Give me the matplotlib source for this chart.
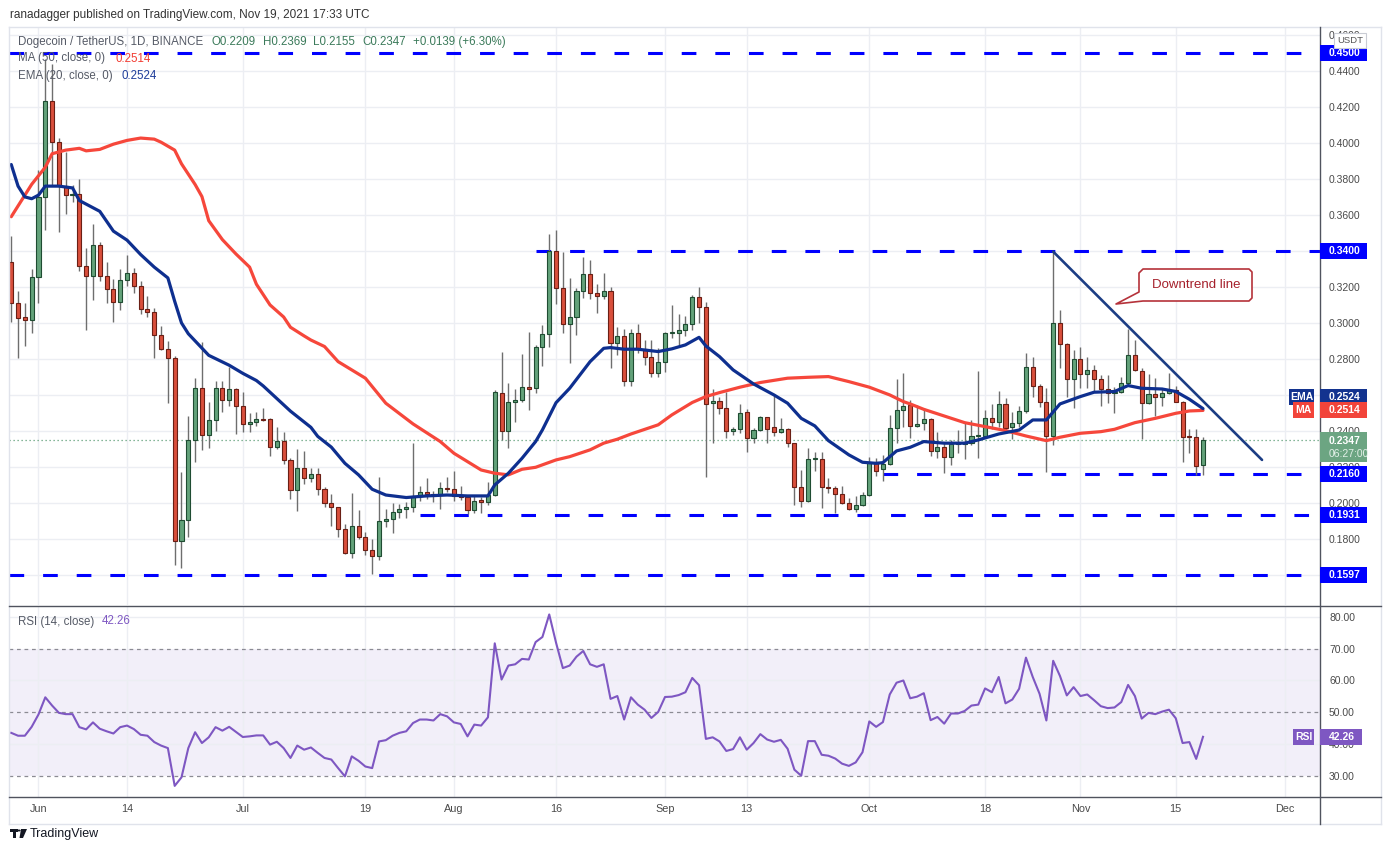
import numpy as np
import pandas as pd
import matplotlib
matplotlib.use("Agg")
import matplotlib.pyplot as plt
import matplotlib.dates as mdates
from matplotlib.patches import Rectangle, Polygon
from matplotlib.lines import Line2D
from matplotlib.ticker import FuncFormatter

plt.rcParams['font.family'] = ['Liberation Sans', 'DejaVu Sans']

# ---------------- data ----------------
start_date = "2021-05-28"
end_date = "2021-11-19"

opens = [0.3339, 0.3109, 0.3031, 0.3014,
         0.3253, 0.3698, 0.4232, 0.4004, 0.3759, 0.3708, 0.3716, 0.3316, 0.3259, 0.3433, 0.3260, 0.3188, 0.3119, 0.3238, 0.3276,
         0.3207, 0.3077, 0.3058, 0.2932, 0.2855, 0.2803, 0.1790, 0.1905, 0.2350, 0.2637, 0.2377, 0.2459, 0.2641, 0.2574, 0.2631,
         0.2536, 0.2438, 0.2450, 0.2465, 0.2465, 0.2310, 0.2345, 0.2239, 0.2071, 0.2192, 0.2140, 0.2159, 0.2076, 0.1998, 0.1976,
         0.1854, 0.1720, 0.1872, 0.1813, 0.1739, 0.1706, 0.1902, 0.1911, 0.1948, 0.1967, 0.1978, 0.2037, 0.2059, 0.2052, 0.2044, 0.2085,
         0.2076, 0.2043, 0.2031, 0.1961, 0.2017, 0.2007, 0.2046, 0.2613, 0.2398, 0.2559, 0.2570, 0.2643, 0.2637, 0.2865, 0.2937,
         0.3398, 0.3193, 0.2993, 0.3032, 0.3178, 0.3272, 0.3165, 0.3147, 0.3178, 0.2887, 0.2928, 0.2680, 0.2943, 0.2857, 0.2809, 0.2720,
         0.2781, 0.2943, 0.2943, 0.2959, 0.2993, 0.3143, 0.3087, 0.2554, 0.2565, 0.2526, 0.2398, 0.2409, 0.2504, 0.2359, 0.2404,
         0.2476, 0.2420, 0.2396, 0.2413, 0.2332, 0.2087, 0.2009, 0.2243, 0.2243, 0.2091, 0.2081, 0.2048, 0.1998, 0.1965, 0.1987,
         0.2043, 0.2228, 0.2187, 0.2217, 0.2415, 0.2517, 0.2543, 0.2428, 0.2443, 0.2465, 0.2289, 0.2309, 0.2257, 0.2326, 0.2326,
         0.2335, 0.2372, 0.2374, 0.2470, 0.2452, 0.2550, 0.2422, 0.2443, 0.2509, 0.2756, 0.2650, 0.2559, 0.2374, 0.2998, 0.2882, 0.2687,
         0.2798, 0.2715, 0.2739, 0.2687, 0.2632, 0.2609, 0.2615, 0.2665, 0.2820, 0.2735, 0.2554, 0.2606, 0.2591, 0.2609, 0.2626,
         0.2563, 0.2369, 0.2369, 0.2209]

highs = [0.3482, 0.3176, 0.3109, 0.3301,
         0.3849, 0.4467, 0.4438, 0.4027, 0.3951, 0.3769, 0.3798, 0.3415, 0.3549, 0.3448, 0.3339, 0.3243, 0.3301, 0.3377, 0.3306,
         0.3234, 0.3148, 0.3081, 0.2981, 0.2899, 0.2817, 0.2172, 0.2484, 0.2694, 0.2893, 0.2561, 0.2679, 0.2675, 0.2756, 0.2641,
         0.2618, 0.2498, 0.2507, 0.2530, 0.2473, 0.2421, 0.2392, 0.2249, 0.2301, 0.2287, 0.2192, 0.2192, 0.2091, 0.2050, 0.1980,
         0.1883, 0.2054, 0.1961, 0.1841, 0.1798, 0.2146, 0.1969, 0.1998, 0.1994, 0.2007, 0.2331, 0.2096, 0.2137, 0.2068, 0.2119, 0.2143,
         0.2180, 0.2096, 0.2039, 0.2039, 0.2035, 0.2119, 0.2628, 0.2837, 0.2665, 0.2632, 0.2828, 0.2950, 0.2878, 0.2987, 0.3494,
         0.3517, 0.3396, 0.3248, 0.3193, 0.3369, 0.3350, 0.3215, 0.3280, 0.3202, 0.2980, 0.2965, 0.2965, 0.2995, 0.2906, 0.2906, 0.2859,
         0.2952, 0.3100, 0.3050, 0.3039, 0.3156, 0.3202, 0.3115, 0.2633, 0.2591, 0.2618, 0.2424, 0.2550, 0.2520, 0.2415, 0.2483,
         0.2480, 0.2600, 0.2470, 0.2415, 0.2334, 0.2183, 0.2304, 0.2285, 0.2285, 0.2137, 0.2094, 0.2094, 0.2026, 0.2039, 0.2063,
         0.2254, 0.2252, 0.2267, 0.2489, 0.2687, 0.2720, 0.2572, 0.2543, 0.2526, 0.2470, 0.2396, 0.2332, 0.2350, 0.2405, 0.2443,
         0.2461, 0.2733, 0.2517, 0.2550, 0.2622, 0.2582, 0.2507, 0.2539, 0.2832, 0.2808, 0.2661, 0.2639, 0.3396, 0.3072, 0.2887, 0.2850,
         0.2865, 0.2809, 0.2767, 0.2711, 0.2711, 0.2646, 0.2698, 0.2965, 0.2905, 0.2748, 0.2717, 0.2693, 0.2637, 0.2720, 0.2652,
         0.2565, 0.2409, 0.2411, 0.2369]

lows = [0.3004, 0.2803, 0.2870, 0.2943,
        0.3113, 0.3515, 0.3769, 0.3505, 0.3607, 0.3673, 0.3287, 0.2960, 0.3129, 0.3234, 0.3109, 0.3004, 0.3071, 0.3203, 0.3167,
        0.3052, 0.3033, 0.2803, 0.2850, 0.2555, 0.1657, 0.1638, 0.1809, 0.2230, 0.2293, 0.2306, 0.2402, 0.2507, 0.2536, 0.2383,
        0.2392, 0.2392, 0.2427, 0.2455, 0.2259, 0.2297, 0.2216, 0.2020, 0.1953, 0.2106, 0.2115, 0.2044, 0.1980, 0.1872, 0.1813,
        0.1715, 0.1693, 0.1798, 0.1711, 0.1606, 0.1683, 0.1865, 0.1832, 0.1915, 0.1915, 0.1952, 0.2013, 0.2020, 0.2007, 0.1965, 0.2063,
        0.2013, 0.2017, 0.1937, 0.1946, 0.1946, 0.1987, 0.2039, 0.2350, 0.2307, 0.2452, 0.2563, 0.2517, 0.2613, 0.2763, 0.2869,
        0.3104, 0.2946, 0.2780, 0.2933, 0.3141, 0.3133, 0.3054, 0.3133, 0.2748, 0.2822, 0.2650, 0.2650, 0.2835, 0.2769, 0.2702, 0.2698,
        0.2729, 0.2918, 0.2872, 0.2930, 0.2962, 0.3002, 0.2146, 0.2335, 0.2493, 0.2359, 0.2378, 0.2387, 0.2285, 0.2335, 0.2400,
        0.2332, 0.2372, 0.2387, 0.2309, 0.1989, 0.1980, 0.2007, 0.2180, 0.1970, 0.2057, 0.1943, 0.1994, 0.1961, 0.1948, 0.1983,
        0.2039, 0.2152, 0.2124, 0.2211, 0.2332, 0.2424, 0.2359, 0.2424, 0.2405, 0.2261, 0.2248, 0.2165, 0.2211, 0.2276, 0.2243,
        0.2322, 0.2252, 0.2369, 0.2409, 0.2424, 0.2387, 0.2354, 0.2424, 0.2502, 0.2587, 0.2535, 0.2174, 0.2322, 0.2748, 0.2587, 0.2526,
        0.2637, 0.2637, 0.2622, 0.2541, 0.2554, 0.2502, 0.2609, 0.2661, 0.2735, 0.2354, 0.2548, 0.2485, 0.2541, 0.2606, 0.2559,
        0.2230, 0.2276, 0.2154, 0.2155]

closes = [0.3109, 0.3027, 0.3016, 0.3257,
          0.3698, 0.4232, 0.4004, 0.3759, 0.3708, 0.3716, 0.3314, 0.3259, 0.3433, 0.3260, 0.3188, 0.3119, 0.3238, 0.3276, 0.3203,
          0.3077, 0.3058, 0.2932, 0.2855, 0.2803, 0.1790, 0.1905, 0.2350, 0.2637, 0.2377, 0.2459, 0.2641, 0.2574, 0.2631, 0.2536,
          0.2440, 0.2450, 0.2465, 0.2462, 0.2310, 0.2345, 0.2239, 0.2071, 0.2192, 0.2140, 0.2159, 0.2077, 0.1998, 0.1976, 0.1854,
          0.1720, 0.1872, 0.1813, 0.1739, 0.1706, 0.1902, 0.1911, 0.1948, 0.1967, 0.1978, 0.2037, 0.2059, 0.2052, 0.2044, 0.2085, 0.2076,
          0.2039, 0.2031, 0.1961, 0.2013, 0.2007, 0.2046, 0.2619, 0.2398, 0.2559, 0.2570, 0.2643, 0.2635, 0.2865, 0.2937, 0.3398,
          0.3193, 0.2993, 0.3032, 0.3178, 0.3272, 0.3165, 0.3147, 0.3178, 0.2887, 0.2928, 0.2680, 0.2943, 0.2857, 0.2809, 0.2720, 0.2781,
          0.2943, 0.2950, 0.2959, 0.2993, 0.3143, 0.3087, 0.2548, 0.2565, 0.2526, 0.2400, 0.2409, 0.2498, 0.2359, 0.2404, 0.2476,
          0.2413, 0.2396, 0.2409, 0.2332, 0.2087, 0.2009, 0.2243, 0.2245, 0.2087, 0.2081, 0.2048, 0.1998, 0.1965, 0.1987, 0.2043,
          0.2228, 0.2180, 0.2217, 0.2415, 0.2517, 0.2539, 0.2428, 0.2437, 0.2465, 0.2289, 0.2309, 0.2257, 0.2326, 0.2330, 0.2339,
          0.2372, 0.2378, 0.2470, 0.2452, 0.2550, 0.2419, 0.2443, 0.2509, 0.2756, 0.2650, 0.2558, 0.2374, 0.2998, 0.2882, 0.2687, 0.2798,
          0.2715, 0.2739, 0.2687, 0.2632, 0.2609, 0.2615, 0.2665, 0.2820, 0.2739, 0.2554, 0.2606, 0.2591, 0.2609, 0.2626, 0.2563,
          0.2369, 0.2365, 0.2207, 0.2347]

rsi_vals = [43.5, 42.6, 42.6, 45.4,
            49.3, 54.7, 52.1, 49.8, 49.4, 49.4, 45.3, 44.6, 46.8, 44.8, 44.0, 43.3, 45.3, 45.8, 44.7,
            42.9, 42.6, 40.6, 39.5, 38.7, 26.8, 29.5, 38.7, 43.7, 40.3, 42.1, 45.3, 44.2, 45.4, 43.8,
            42.2, 42.4, 42.7, 42.7, 39.8, 40.7, 38.7, 35.6, 39.5, 38.2, 38.9, 37.2, 35.6, 35.1, 32.4,
            29.8, 36.1, 34.7, 32.9, 32.4, 40.8, 41.2, 42.6, 43.5, 44.0, 46.6, 47.7, 47.7, 47.4, 49.4, 48.7,
            46.8, 46.3, 42.4, 46.1, 45.8, 48.4, 71.7, 60.3, 64.7, 65.1, 66.8, 66.6, 72.1, 73.7, 80.8,
            71.9, 63.9, 64.7, 67.5, 69.3, 65.1, 64.3, 65.1, 54.2, 55.1, 47.7, 54.7, 52.4, 50.8, 48.2, 50.1,
            54.8, 54.9, 55.4, 56.3, 60.8, 58.5, 41.6, 42.1, 40.8, 37.8, 38.4, 42.1, 38.2, 40.3, 43.1,
            41.4, 40.7, 41.3, 38.5, 31.9, 30.0, 40.9, 40.9, 36.6, 36.3, 35.4, 33.8, 33.1, 34.2, 37.4,
            47.1, 45.4, 46.9, 55.6, 59.3, 60.0, 54.4, 54.9, 56.0, 47.5, 48.5, 46.4, 49.6, 49.6, 50.4,
            52.1, 52.4, 57.5, 56.3, 61.1, 52.8, 54.0, 57.4, 67.2, 61.1, 55.8, 47.4, 66.2, 61.4, 55.3, 57.9,
            55.1, 55.6, 53.8, 51.9, 51.3, 51.5, 53.2, 58.6, 55.1, 48.0, 49.8, 49.4, 50.2, 50.8, 48.1,
            40.3, 40.6, 35.3, 42.26]

ema_dates = ["05-28", "05-29", "05-30", "05-31", "06-01", "06-02", "06-04", "06-06", "06-07", "06-10", "06-12",
             "06-14", "06-16", "06-18", "06-20", "06-21", "06-22", "06-23", "06-25", "06-26", "06-29", "07-01",
             "07-03", "07-04", "07-06", "07-08", "07-10", "07-11", "07-12", "07-14", "07-16", "07-18", "07-20",
             "07-22", "07-25", "07-28", "07-31", "08-03", "08-06", "08-07", "08-09", "08-11", "08-13", "08-14",
             "08-16", "08-18", "08-21", "08-23", "08-24", "08-26", "08-28", "08-31", "09-02", "09-04", "09-06",
             "09-07", "09-09", "09-11", "09-14", "09-17", "09-19", "09-21", "09-23", "09-25", "09-28", "09-30",
             "10-02", "10-03", "10-05", "10-07", "10-09", "10-12", "10-15", "10-17", "10-20", "10-23", "10-25",
             "10-27", "10-29", "11-01", "11-03", "11-06", "11-08", "11-10", "11-13", "11-15", "11-17", "11-19"]
ema_vals = [0.388, 0.376, 0.370, 0.369, 0.371, 0.376, 0.376, 0.375, 0.368, 0.362, 0.351,
            0.346, 0.338, 0.331, 0.325, 0.312, 0.300, 0.294, 0.286, 0.282, 0.2765, 0.272,
            0.268, 0.265, 0.258, 0.251, 0.245, 0.242, 0.237, 0.231, 0.222, 0.2156, 0.2076,
            0.2044, 0.2030, 0.2039, 0.2044, 0.2039, 0.2039, 0.2100, 0.2165, 0.2248, 0.2341, 0.2406,
            0.2557, 0.2637, 0.2785, 0.2859, 0.2863, 0.2854, 0.2854, 0.2841, 0.2856, 0.2878, 0.2920,
            0.2872, 0.2813, 0.2739, 0.2661, 0.2600, 0.2554, 0.2470, 0.2428, 0.2346, 0.2267, 0.2226,
            0.2220, 0.2224, 0.2289, 0.2309, 0.2341, 0.2332, 0.2332, 0.2350, 0.2383, 0.2405, 0.2461,
            0.2461, 0.2550, 0.2591, 0.2615, 0.2619, 0.2652, 0.2637, 0.2633, 0.2619, 0.2576, 0.2524]

ma_dates = ["05-28", "05-29", "05-31", "06-02", "06-03", "06-05", "06-07", "06-08", "06-10", "06-12", "06-14",
            "06-16", "06-18", "06-19", "06-21", "06-22", "06-24", "06-25", "06-26", "06-28", "06-30", "07-02",
            "07-03", "07-05", "07-07", "07-08", "07-10", "07-11", "07-13", "07-15", "07-19", "07-22", "07-26",
            "07-30", "08-01", "08-05", "08-07", "08-09", "08-11", "08-13", "08-16", "08-18", "08-21", "08-23",
            "08-25", "08-27", "08-31", "09-02", "09-05", "09-07", "09-09", "09-12", "09-15", "09-19", "09-22",
            "09-25", "09-28", "10-01", "10-04", "10-06", "10-07", "10-09", "10-12", "10-15", "10-18", "10-21",
            "10-24", "10-27", "10-29", "11-01", "11-04", "11-06", "11-09", "11-12", "11-15", "11-17", "11-19"]
ma_vals = [0.359, 0.365, 0.377, 0.3865, 0.394, 0.396, 0.397, 0.3956, 0.3964, 0.3993, 0.4014,
           0.4027, 0.4021, 0.4004, 0.396, 0.3884, 0.3769, 0.3702, 0.3568, 0.3463, 0.3383, 0.331,
           0.3215, 0.310, 0.3033, 0.2976, 0.2928, 0.2905, 0.2869, 0.2785, 0.2693, 0.2554, 0.2439,
           0.2341, 0.2276, 0.2183, 0.2165, 0.2156, 0.2187, 0.2198, 0.2239, 0.2257, 0.2295, 0.2332,
           0.2354, 0.2383, 0.2434, 0.2489, 0.2558, 0.2591, 0.2613, 0.2643, 0.2669, 0.2693, 0.2698,
           0.2702, 0.2674, 0.2643, 0.2600, 0.2563, 0.2550, 0.2520, 0.2483, 0.2446, 0.2424, 0.2402,
           0.2372, 0.2346, 0.2365, 0.2387, 0.2396, 0.2409, 0.2446, 0.2470, 0.2498, 0.2511, 0.2514]

levels = [0.4500, 0.3400, 0.2160, 0.1931, 0.1597]
level_starts = [None, "2021-08-13", "2021-10-03", "2021-07-27", None]

trend_dates = ["2021-10-28 00:00", "2021-11-27 16:00"]
trend_prices = [0.3396, 0.2239]

tick_dates = ["2021-06-01", "2021-06-14", "2021-07-01", "2021-07-19", "2021-08-01", "2021-08-16",
              "2021-09-01", "2021-09-13", "2021-10-01", "2021-10-18", "2021-11-01", "2021-11-15", "2021-12-01"]
tick_labels = ["Jun", "14", "Jul", "19", "Aug", "16", "Sep", "13", "Oct", "18", "Nov", "15", "Dec"]

last_price = 0.2347
ma_last = 0.2514
ema_last = 0.2524
rsi_last = 42.26

# ---------------- figure / layout ----------------
W, H = 1391, 860
fig = plt.figure(figsize=(W / 100, H / 100), dpi=100)
fig.patch.set_facecolor("white")

def fx(px):
    return px / W

def fy(py):
    return 1 - py / H

L, R = 9, 1320
TOP, MAIN_BOT, RSI_TOP, RSI_BOT, TIME_BOT, RIGHT = 27, 605, 606, 797, 824, 1381
ax = fig.add_axes([fx(L), fy(MAIN_BOT), fx(R) - fx(L), (MAIN_BOT - TOP) / H])
axr = fig.add_axes([fx(L), fy(RSI_BOT), fx(R) - fx(L), (RSI_BOT - RSI_TOP) / H], sharex=ax)

dates = pd.date_range(start_date, end_date, freq="D")
xd = mdates.date2num(dates)
anchor = mdates.date2num(pd.Timestamp("2021-06-14"))
xmin, xmax = anchor - 17.33, anchor + 175.18

o = np.array(opens); h = np.array(highs); l = np.array(lows); c = np.array(closes)

GRID = "#eceef3"
for a in (ax, axr):
    a.set_facecolor("none")
    for s in a.spines.values():
        s.set_visible(False)
    a.set_axisbelow(True)

ax.set_xlim(xmin, xmax)
ax.set_ylim(0.1433, 0.4644)
axr.set_ylim(23.3, 83.46)

tx = mdates.date2num(pd.to_datetime(tick_dates))
ax.set_xticks(tx)
ax.set_xticklabels(tick_labels)
ax.grid(True, axis="both", color=GRID, lw=1)
axr.grid(True, axis="x", color=GRID, lw=1)
ax.tick_params(axis="x", labelbottom=False, length=0)
axr.tick_params(axis="x", length=0, pad=5, labelsize=7.8, labelcolor="#4a4a4a")

ax.set_yticks(np.round(np.arange(0.16, 0.4601, 0.02), 2))
ax.yaxis.set_major_formatter(FuncFormatter(lambda v, p: f"{v:.4f}"))
ax.yaxis.tick_right()
ax.tick_params(axis="y", length=0, pad=6.5, labelsize=7.5, labelcolor="#4a4a4a")

axr.set_yticks([30, 40, 50, 60, 70, 80])
axr.yaxis.set_major_formatter(FuncFormatter(lambda v, p: f"{v:.2f}"))
axr.yaxis.tick_right()
axr.tick_params(axis="y", length=0, pad=6.5, labelsize=7.5, labelcolor="#4a4a4a")

# ---------------- main pane ----------------
ax.axhline(last_price, color="#5f9f78", lw=0.9, ls=(0, (1, 2.2)), zorder=1.5)

lvl_color = "#0000ff"
for lv, st in zip(levels, level_starts):
    x0 = xmin if st is None else mdates.date2num(pd.Timestamp(st))
    ax.plot([x0, xmax], [lv, lv], color=lvl_color, lw=2.2, dashes=(4.8, 6.2), zorder=1.8,
            solid_capstyle="butt", dash_capstyle="butt")

up = c >= o
ax.vlines(xd, l, h, color="#6e6e6e", lw=1, zorder=2)
ax.bar(xd, np.maximum(np.abs(c - o), 0.0007), bottom=np.minimum(o, c), width=0.6,
       color=np.where(up, "#63a27a", "#d94f3c"), edgecolor=np.where(up, "#1f4c32", "#6a1f15"),
       linewidth=0.8, zorder=3)

ma_x = mdates.date2num(pd.to_datetime(["2021-" + s for s in ma_dates]))
ema_x = mdates.date2num(pd.to_datetime(["2021-" + s for s in ema_dates]))
ax.plot(ma_x, ma_vals, color="#f6473b", lw=2.3, zorder=4, solid_capstyle="round", solid_joinstyle="round")
ax.plot(ema_x, ema_vals, color="#0e2f8f", lw=2.3, zorder=4.1, solid_capstyle="round", solid_joinstyle="round")

trend_x = mdates.date2num(pd.to_datetime(trend_dates))
ax.plot(trend_x, trend_prices, color="#1c3d84", lw=1.9, zorder=5, solid_capstyle="round")

# ---------------- RSI pane ----------------
axr.axhspan(30, 70, color="#f2eff9", zorder=0.2, lw=0)
for v in (40, 60, 80):
    axr.axhline(v, color=GRID, lw=1, zorder=0.5)
for v in (30, 50, 70):
    axr.axhline(v, color="#8b8b93", lw=0.9, dashes=(3, 3), zorder=0.6)
axr.plot(xd, rsi_vals, color="#7e57c2", lw=1.5, zorder=3)

# ---------------- frame lines ----------------
def hline(py, x0, x1, color, lw=1.0):
    fig.add_artist(Line2D([fx(x0), fx(x1)], [fy(py), fy(py)], color=color, lw=lw, transform=fig.transFigure))

def vline(px, y0, y1, color, lw=1.0):
    fig.add_artist(Line2D([fx(px), fx(px)], [fy(y0), fy(y1)], color=color, lw=lw, transform=fig.transFigure))

FRAME = "#e0e3eb"
DARK = "#50535e"
hline(TOP, L, RIGHT, FRAME)
hline(TIME_BOT, L, RIGHT, FRAME)
vline(L, TOP, TIME_BOT, FRAME)
vline(RIGHT, TOP, TIME_BOT, FRAME)
hline(605.5, L, RIGHT, DARK)
hline(RSI_BOT, L, RIGHT, DARK)
vline(R, TOP, TIME_BOT, DARK)

# ---------------- labels on price scale ----------------
def ypx(a, val):
    return H - a.transData.transform((xmin, val))[1]

def box(x0, x1, yc, hgt, color, z=5):
    fig.add_artist(Rectangle((fx(x0), fy(yc + hgt / 2)), fx(x1) - fx(x0), hgt / H,
                             transform=fig.transFigure, facecolor=color, edgecolor="none", zorder=z))

def btext(px, py, s, color="white", size=7.5, weight="bold", ha="left", z=6):
    fig.text(fx(px), fy(py), s, color=color, fontsize=size, fontweight=weight, ha=ha, va="center", zorder=z)

for lv in levels:
    yc = ypx(ax, lv)
    box(R, 1367, yc, 16, lvl_color)
    btext(1329, yc, f"{lv:.4f}")

EMA_C, MA_C = "#13338f", "#f2443a"
yc_ema = ypx(ax, ema_last) - 12
box(R, 1367, yc_ema, 16, EMA_C)
btext(1329, yc_ema, f"{ema_last:.4f}")
box(1289, 1314, yc_ema, 16, EMA_C)
btext(1301.5, yc_ema, "EMA", ha="center")

yc_ma = ypx(ax, ma_last)
box(R, 1367, yc_ma, 16, MA_C)
btext(1329, yc_ma, f"{ma_last:.4f}")
box(1293, 1314, yc_ma, 16, MA_C)
btext(1303.5, yc_ma, "MA", ha="center")

yc_p = ypx(ax, last_price)
fig.add_artist(Rectangle((fx(R), fy(yc_p + 22)), fx(1367) - fx(R), 30 / H, transform=fig.transFigure,
                         facecolor="#6ca582", edgecolor="none", zorder=5))
btext(1329, yc_p + 1, f"{last_price:.4f}")
btext(1329, yc_p + 14, "06:27:00", color="#e3f0e8", weight="normal")

yc_r = ypx(axr, rsi_last)
box(R, 1362, yc_r, 16, "#7e57c2")
btext(1329, yc_r, f"{rsi_last:.2f}")
box(1293, 1314, yc_r, 16, "#7e57c2")
btext(1303.5, yc_r, "RSI", ha="center")

# USDT tag
fig.add_artist(Rectangle((fx(1334), fy(48)), fx(1366) - fx(1334), 15 / H, transform=fig.transFigure,
                         facecolor="white", edgecolor="#c9ccd4", lw=0.8, zorder=7))
fig.text(fx(1350), fy(40.5), "USDT", fontsize=6.8, color="#555555", ha="center", va="center", zorder=8)

# ---------------- texts ----------------
fig.text(fx(10), fy(15), "ranadagger published on TradingView.com, Nov 19, 2021 17:33 UTC",
         fontsize=8.5, color="#333333", va="center")

GRAY = "#555a66"
VAL_G = "#3b7a5a"
fig.text(fx(18), fy(42.3), "Dogecoin / TetherUS, 1D, BINANCE", fontsize=8.3, color=GRAY, va="center", zorder=9)
for s, px in [("O0.2209", 212), ("H0.2369", 263), ("L0.2155", 313), ("C0.2347", 362), ("+0.0139 (+6.30%)", 413)]:
    fig.text(fx(px), fy(42.3), s, fontsize=8.3, color=VAL_G, va="center", zorder=9)
fig.text(fx(18), fy(58.5), "MA (50, close, 0)", fontsize=8.3, color=GRAY, va="center", zorder=9)
fig.text(fx(115.5), fy(58.5), f"{ma_last:.4f}", fontsize=8.3, color="#f23c32", va="center", zorder=9)
fig.text(fx(18), fy(76), "EMA (20, close, 0)", fontsize=8.3, color=GRAY, va="center", zorder=9)
fig.text(fx(122), fy(76), f"{ema_last:.4f}", fontsize=8.3, color="#1e3d9a", va="center", zorder=9)
fig.text(fx(18), fy(621.5), "RSI (14, close)", fontsize=8.3, color=GRAY, va="center", zorder=9)
fig.text(fx(101.5), fy(621.5), f"{rsi_last:.2f}", fontsize=8.3, color="#7e57c2", va="center", zorder=9)

# callout "Downtrend line"
call_pts = [(1143, 269), (1249, 269), (1252, 272), (1252, 298), (1249, 301), (1143, 301),
            (1116, 304), (1139, 292), (1139, 273)]
fig.add_artist(Polygon([(fx(px), fy(py)) for px, py in call_pts], closed=True, transform=fig.transFigure,
                       facecolor="white", edgecolor="#b5323a", lw=1.2, joinstyle="round", zorder=6))
fig.text(fx(1196), fy(285.5), "Downtrend line", fontsize=9.5, color="#a5202b", ha="center", va="center", zorder=7)

# TradingView logo
for (x0, y0, w, hh) in [(10, 829, 8, 3), (13, 829, 3, 9)]:
    fig.add_artist(Rectangle((fx(x0), fy(y0 + hh)), w / W, hh / H, transform=fig.transFigure,
                             facecolor="#131722", edgecolor="none"))
fig.add_artist(Polygon([(fx(px), fy(py)) for px, py in [(21, 829), (27, 829), (23, 838), (19.5, 838)]],
                       closed=True, transform=fig.transFigure, facecolor="#131722", edgecolor="none"))
fig.add_artist(matplotlib.patches.Circle((fx(19), fy(830.5)), 1.6 / W, transform=fig.transFigure,
                                         facecolor="#131722", edgecolor="none"))
fig.text(fx(29.5), fy(833.5), "TradingView", fontsize=9, color="#131722", va="center")

fig.savefig("out.png", dpi=100, facecolor="white")
